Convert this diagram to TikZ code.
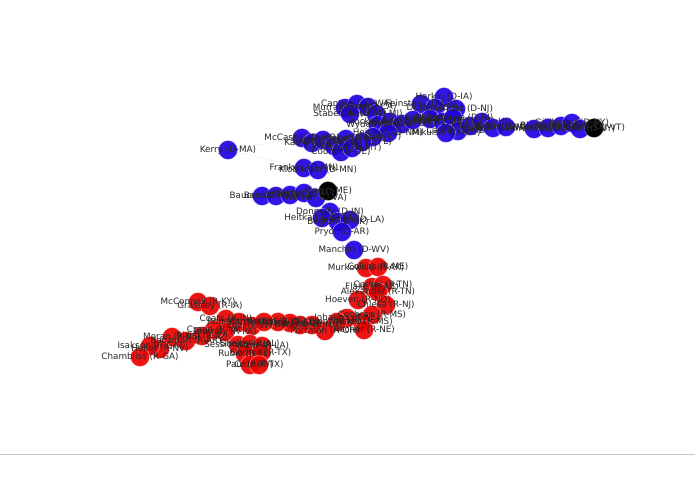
\documentclass[tikz,border=0pt]{standalone}
\usepackage{fontspec}
\setmainfont{DejaVu Sans}
\usetikzlibrary{positioning,backgrounds}

\definecolor{demblue}{RGB}{32,0,228}
\definecolor{repred}{RGB}{238,0,0}

% senators: name/x/y/label (pixel grid, y downwards)
\newcommand{\demlist}{%
 murray/345/108/{Murray (D-WA)}, cantwell/357/104/{Cantwell (D-WA)},
 boxer/368/107/{Boxer (D-CA)}, stabenow/350/114/{Stabenow (D-MI)},
 levin/376/114/{Levin (D-MI)}, feinstein/421/104/{Feinstein (D-CA)},
 harkin/444/97/{Harkin (D-IA)}, menendez/456/109/{Menendez (D-NJ)},
 durbin/435/108/{Durbin (D-IL)}, reid/430/119/{Reid (D-NV)},
 reed/443/122/{Reed (D-RI)}, whitehouse/453/118/{Whitehouse (D-RI)},
 cardin/458/131/{Cardin (D-MD)}, mikulski/446/133/{Mikulski (D-MD)},
 wyden/378/125/{Wyden (D-OR)}, rockefeller/390/122/{Rockefeller (D-WV)},
 merkley/402/124/{Merkley (D-OR)}, udall/413/120/{Udall (D-NM)},
 heinrich/388/133/{Heinrich (D-NM)}, leahy/373/137/{Leahy (D-VT)},
 mccaskill/302/138/{McCaskill (D-MO)}, kaine/312/143/{Kaine (D-VA)},
 carper/323/140/{Carper (D-DE)}, casey/334/146/{Casey (D-PA)},
 coons/341/152/{Coons (D-DE)}, shaheen/346/139/{Shaheen (D-NH)},
 tester/352/148/{Tester (D-MT)}, nelson/362/142/{Nelson (D-FL)},
 schatz/470/126/{Schatz (D-HI)}, hirono/482/122/{Hirono (D-HI)},
 baldwin/493/128/{Baldwin (D-WI)}, brown/506/127/{Brown (D-OH)},
 warren/534/129/{Warren (D-MA)}, murphy/548/128/{Murphy (D-CT)},
 blumenthal/561/126/{Blumenthal (D-CT)}, gillibrand/572/123/{Gillibrand (D-NY)},
 schumer/580/129/{Schumer (D-NY)},
 kerry/228/150/{Kerry (D-MA)}, franken/304/168/{Franken (D-MN)},
 klobuchar/318/170/{Klobuchar (D-MN)},
 baucus/262/196/{Baucus (D-MT)}, bennet/276/196/{Bennet (D-CO)},
 udallco/290/195/{Udall (D-CO)}, hagan/304/193/{Hagan (D-NC)},
 warner/316/198/{Warner (D-VA)}, donnelly/330/212/{Donnelly (D-IN)},
 heitkamp/322/218/{Heitkamp (D-ND)}, begich/338/222/{Begich (D-AK)},
 landrieu/350/220/{Landrieu (D-LA)}, pryor/342/232/{Pryor (D-AR)},
 manchin/354/250/{Manchin (D-WV)}}
\newcommand{\indlist}{%
 sanders/594/128/{Sanders (I-VT)}, king/328/191/{King (I-ME)}}
\newcommand{\replist}{%
 murkowski/366/268/{Murkowski (R-AK)}, collins/378/267/{Collins (R-ME)},
 flake/372/287/{Flake (R-AZ)}, corker/383/285/{Corker (R-TN)},
 alexander/378/292/{Alexander (R-TN)}, hoeven/358/300/{Hoeven (R-ND)},
 chiesa/386/305/{Chiesa (R-NJ)}, cochran/372/315/{Cochran (R-MS)},
 wicker/362/322/{Wicker (R-MS)}, fischer/364/330/{Fischer (R-NE)},
 johanns/347/318/{Johanns (R-NE)}, blunt/337/322/{Blunt (R-MO)},
 portman/325/331/{Portman (R-OH)}, ayotte/312/325/{Ayotte (R-NH)},
 burr/300/325/{Burr (R-NC)}, thune/290/323/{Thune (R-SD)},
 hatch/278/322/{Hatch (R-UT)}, mcconnell/198/302/{McConnell (R-KY)},
 grassley/210/306/{Grassley (R-IA)}, coats/226/319/{Coats (R-IN)},
 roberts/239/322/{Roberts (R-KS)}, enzi/252/326/{Enzi (R-WY)},
 barrasso/264/322/{Barrasso (R-WY)}, toomey/225/332/{Toomey (R-PA)},
 crapo/214/330/{Crapo (R-ID)}, risch/202/336/{Risch (R-ID)},
 moran/172/337/{Moran (R-KS)}, boozman/186/341/{Boozman (R-AR)},
 heller/160/349/{Heller (R-NV)}, isakson/150/346/{Isakson (R-GA)},
 chambliss/140/357/{Chambliss (R-GA)}, sessions/238/345/{Sessions (R-AL)},
 shelby/250/344/{Shelby (R-AL)}, vitter/262/346/{Vitter (R-LA)},
 rubio/245/354/{Rubio (R-FL)}, cornyn/261/353/{Cornyn (R-TX)},
 paul/250/365/{Paul (R-KY)}, cruz/259/365/{Cruz (R-TX)}}

\begin{document}
\begin{tikzpicture}[x=1pt,y=-1pt,
    dem/.style={circle, draw=white!85!demblue, line width=0.3pt, fill=demblue, fill opacity=0.92, minimum size=19pt, inner sep=0pt},
    rep/.style={circle, draw=white!85!repred, line width=0.3pt, fill=repred, fill opacity=0.92, minimum size=19pt, inner sep=0pt},
    ind/.style={circle, draw=white!70!black, line width=0.3pt, fill=black, minimum size=19pt, inner sep=0pt},
    lbl/.style={font=\fontsize{8.8}{9}\selectfont, text=black!85, inner sep=0pt},
    tie/.style={draw=black!12, line width=0.3pt}
]

\useasboundingbox (0,0) rectangle (695,494);

% nodes
\foreach \n/\x/\y/\lab in \demlist {\node[dem] (\n) at (\x,\y) {};}
\foreach \n/\x/\y/\lab in \indlist {\node[ind] (\n) at (\x,\y) {};}
\foreach \n/\x/\y/\lab in \replist {\node[rep] (\n) at (\x,\y) {};}

% faint edges
\begin{scope}[on background layer]
\foreach \a/\b in {kerry/franken, kerry/mccaskill, franken/klobuchar, klobuchar/hagan,
    king/donnelly, pryor/manchin, manchin/murkowski, collins/corker, flake/hoeven,
    hoeven/johanns, hatch/roberts, mcconnell/grassley, moran/isakson, sessions/shelby,
    brown/warren, schumer/sanders}
  \draw[tie] (\a) -- (\b);
\end{scope}

% labels on top
\foreach \n/\x/\y/\lab in \demlist {\node[lbl] at (\n) {\lab};}
\foreach \n/\x/\y/\lab in \indlist {\node[lbl] at (\n) {\lab};}
\foreach \n/\x/\y/\lab in \replist {\node[lbl] at (\n) {\lab};}

% bottom rule
\draw[black!22, line width=0.8pt] (0,454) -- (695,454);

\end{tikzpicture}
\end{document}
